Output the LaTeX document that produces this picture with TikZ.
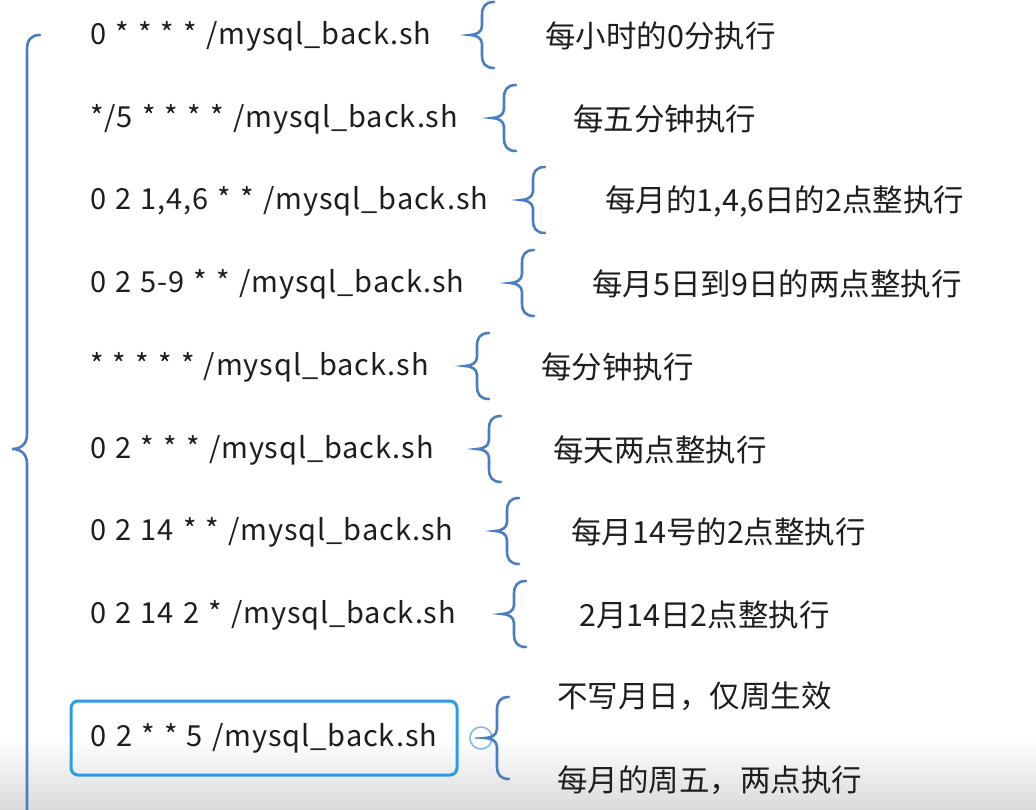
\documentclass[tikz,border=0pt]{standalone}
\usepackage{fontspec}
\setmainfont{Noto Sans CJK SC}
\newfontfamily\cmdfont[LetterSpace=3,WordSpace=1.25]{Noto Sans CJK SC}
\usetikzlibrary{calc}
\definecolor{ink}{HTML}{1E1E1E}
\definecolor{braceblue}{HTML}{4A7EC2}
\definecolor{boxblue}{HTML}{2A9DE6}
\definecolor{foldblue}{HTML}{86B9E6}
\definecolor{barshade}{HTML}{DADADA}
\newcommand\shfile{/mysql\_back.sh}
\begin{document}
\begin{tikzpicture}[x=1pt,y=-1pt,every node/.style={font=\fontsize{30.5}{36}\selectfont,text=ink,inner sep=0pt},cmd/.style={anchor=west,font=\fontsize{29}{36}\cmdfont},desc/.style={anchor=west},brace/.style={braceblue,line width=2.6pt,line cap=round},pics/curly/.style={code={\draw[brace] (24,-#1) .. controls (15,-#1) and (12,{-#1+5}) .. (12,{-#1+13}) -- (12,-9) .. controls (12,-3) and (6,0) .. (0,0) .. controls (6,0) and (12,3) .. (12,9) -- (12,{#1-13}) .. controls (12,{#1-5}) and (15,#1) .. (24,#1);}}]
\useasboundingbox (0,0) rectangle (1036,810);
\fill[white] (0,0) rectangle (1036,810);\shade[top color=white,bottom color=barshade] (0,738) rectangle (1036,810);
% big brace holding all rows
\coordinate (top) at (40,35);\coordinate (tip) at (12,449);\coordinate (bottom) at (27,815);
\draw[brace] (top) .. controls (31,35) and (27,40) .. (27,50) -- (27,434) .. controls (27,445) and (20,449) .. (tip) .. controls (20,449) and (27,453) .. (27,464) -- (bottom);
% rows
\node[cmd] (cmd1) at (90,36){0 * * * * \shfile};\path (470,35) pic{curly=33};\node[desc] (desc1) at (545,36){每小时的0分执行};
\node[cmd] (cmd2) at (90,119){*/5 * * * * \shfile};\path (492,118) pic{curly=33};\node[desc] (desc2) at (573,119){每五分钟执行};
\node[cmd] (cmd3) at (90,201){0 2 1,4,6 * * \shfile};\path (521,200) pic{curly=33};\node[desc] (desc3) at (605,201){每月的1,4,6日的2点整执行};
\node[cmd] (cmd4) at (90,284){0 2 5-9 * * \shfile};\path (510,283) pic{curly=33};\node[desc] (desc4) at (592,284){每月5日到9日的两点整执行};
\node[cmd] (cmd5) at (90,367){* * * * * \shfile};\path (465,366) pic{curly=33};\node[desc] (desc5) at (541,367){每分钟执行};
\node[cmd] (cmd6) at (90,450){0 2 * * * \shfile};\path (477,449) pic{curly=33};\node[desc] (desc6) at (553,450){每天两点整执行};
\node[cmd] (cmd7) at (90,532){0 2 14 * * \shfile};\path (495,531) pic{curly=33};\node[desc] (desc7) at (571,532){每月14号的2点整执行};
\node[cmd] (cmd8) at (90,615){0 2 14 2 * \shfile};\path (502,614) pic{curly=33};\node[desc] (desc8) at (579,615){2月14日2点整执行};
% selected row
\node[draw=boxblue,line width=3pt,rounded corners=7pt,minimum width=386pt,minimum height=74pt,font=\fontsize{29}{36}\cmdfont] (cmd9) at (264,738){0 2 * * 5 \shfile};
\node[circle,draw=foldblue,line width=1.6pt,minimum size=22pt] (fold) at (481,738){};\draw[foldblue,line width=1.6pt] ([xshift=-6pt]fold.center)--([xshift=6pt]fold.center);
\path (485,738) pic{curly=41};
\node[desc] (desc9a) at (557,696){不写月日，仅周生效};\node[desc] (desc9b) at (557,780){每月的周五，两点执行};
\end{tikzpicture}
\end{document}
